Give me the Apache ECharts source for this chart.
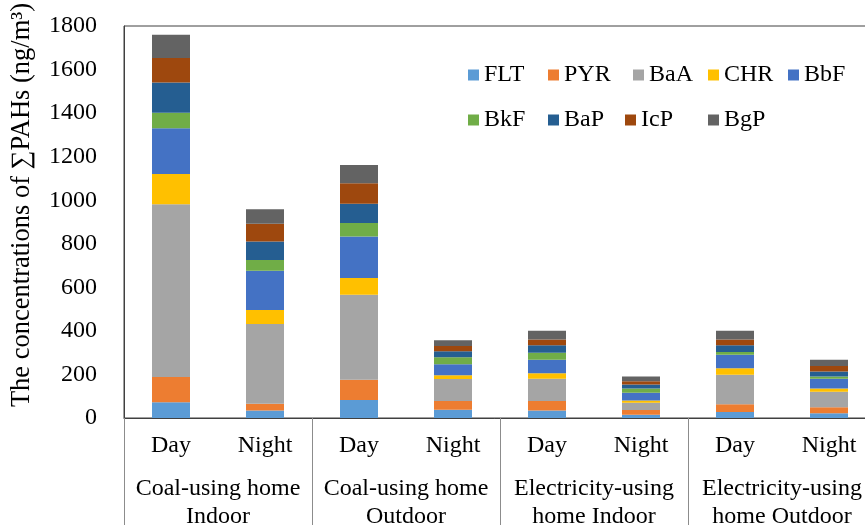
<!DOCTYPE html>
<html>
<head>
<meta charset="utf-8">
<script src="https://cdn.jsdelivr.net/npm/echarts@6/dist/echarts.min.js"></script>
<style>
  html, body { margin: 0; padding: 0; background: #fff; }
  #chart { width: 865px; height: 525px; }
</style>
</head>
<body>
<div id="chart"></div>
<script>
// Sampling periods (inner axis) and household / location groups (outer axis)
const categories = ['Day', 'Night', 'Day', 'Night', 'Day', 'Night', 'Day', 'Night'];
const groups = [
  'Coal-using home\nIndoor',
  'Coal-using home\nOutdoor',
  'Electricity-using\nhome Indoor',
  'Electricity-using\nhome Outdoor'
];

// PAH concentrations, ng/m3
const FLT = [72, 34, 83, 38, 34, 15, 28, 22];
const PYR = [116, 32, 93, 40, 44, 22, 35, 27];
const BaA = [793, 366, 390, 101, 102, 33, 136, 72];
const CHR = [139, 64, 77, 17, 25, 10, 29, 14];
const BbF = [210, 180, 190, 51, 63, 36, 63, 45];
const BkF = [72, 50, 62, 32, 32, 19, 12, 10];
const BaP = [138, 85, 89, 27, 34, 19, 31, 24];
const IcP = [113, 81, 94, 25, 27, 15, 27, 25];
const BgP = [107, 66, 84, 26, 40, 22, 40, 29];

const yTicks = { min: 0, max: 1800, interval: 200 };

const compounds = [
  { name: 'FLT', data: FLT, color: '#5B9BD5' },
  { name: 'PYR', data: PYR, color: '#ED7D31' },
  { name: 'BaA', data: BaA, color: '#A5A5A5' },
  { name: 'CHR', data: CHR, color: '#FFC000' },
  { name: 'BbF', data: BbF, color: '#4472C4' },
  { name: 'BkF', data: BkF, color: '#70AD47' },
  { name: 'BaP', data: BaP, color: '#255E91' },
  { name: 'IcP', data: IcP, color: '#9E480E' },
  { name: 'BgP', data: BgP, color: '#636363' }
];

const FONT = '"Liberation Serif", "Times New Roman", serif';

// Legend entries laid out in two rows
const legendSpots = {
  FLT: [468, 63], PYR: [548, 63], BaA: [633, 63], CHR: [708, 63], BbF: [788, 63],
  BkF: [468, 108], BaP: [548, 108], IcP: [625, 108], BgP: [708, 108]
};

const chart = echarts.init(document.getElementById('chart'), null, { renderer: 'canvas' });

chart.setOption({
  animation: false,
  backgroundColor: '#ffffff',
  grid: {
    left: 124, right: -11, top: 26, bottom: 107,
    containLabel: false,
    outerBoundsMode: 'none',
    show: true, borderColor: '#404040', borderWidth: 1, backgroundColor: 'transparent'
  },
  legend: compounds.map(c => ({
    data: [c.name],
    left: legendSpots[c.name][0],
    top: legendSpots[c.name][1],
    icon: 'rect',
    itemWidth: 11,
    itemHeight: 11,
    padding: 0,
    selectedMode: false,
    textStyle: { fontFamily: FONT, fontSize: 24, color: '#000', lineHeight: 24 }
  })),
  xAxis: [
    {
      type: 'category',
      data: categories,
      position: 'bottom',
      axisLine: { show: true, lineStyle: { color: '#404040', width: 1 } },
      axisTick: { show: false },
      axisLabel: { interval: 0, margin: 16, fontFamily: FONT, fontSize: 24, color: '#000' },
      splitLine: { show: false }
    },
    {
      type: 'category',
      data: groups,
      position: 'bottom',
      axisLine: { show: false },
      axisTick: { show: true, length: 107, interval: 0, lineStyle: { color: '#8c8c8c', width: 1 } },
      axisLabel: {
        interval: 0, margin: 57, fontFamily: FONT, fontSize: 24, color: '#000', lineHeight: 28
      },
      splitLine: { show: false }
    }
  ],
  yAxis: {
    type: 'value',
    min: yTicks.min,
    max: yTicks.max,
    interval: yTicks.interval,
    axisLine: { show: true, lineStyle: { color: '#404040', width: 1 } },
    axisTick: { show: false },
    splitLine: { show: false },
    axisLabel: {
      margin: 27, fontFamily: FONT, fontSize: 24, color: '#000',
      formatter: v => String(v)
    }
  },
  graphic: [
    {
      type: 'text',
      x: 22,
      y: 205,
      rotation: Math.PI / 2,
      style: {
        text: 'The concentrations of \u2211PAHs (ng/m\u00B3)',
        font: '26.5px ' + FONT,
        fill: '#000',
        textAlign: 'center',
        textVerticalAlign: 'middle'
      }
    }
  ],
  series: compounds.map(c => ({
    name: c.name,
    type: 'bar',
    stack: 'total',
    xAxisIndex: 0,
    barWidth: 38,
    data: c.data,
    itemStyle: { color: c.color }
  }))
});
</script>
</body>
</html>
